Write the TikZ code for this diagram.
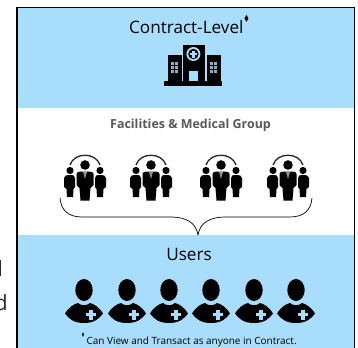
\documentclass[tikz,border=0pt]{standalone}
\usepackage{fontspec}
\setmainfont{Open Sans}
\newfontfamily\symfont{DejaVu Sans}
\usetikzlibrary{calc}
\definecolor{bandblue}{HTML}{A8DEFB}
\definecolor{titlegray}{HTML}{595959}
\tikzset{
	bandtitle/.style={inner sep=0pt, anchor=base, text=black, font=\fontsize{17.2}{20}\selectfont},
	cutword/.style={inner sep=0pt, anchor=base east, text=black!85, font=\fontsize{21}{24}\selectfont},
}
\def\marker#1#2{{\scalebox{#1}[#2]{\symfont\fontsize{8}{8}\selectfont ♦}}}
% three people under an arc
\def\peoplegroup(#1,#2){
	\begin{scope}[shift={(#1,#2)}]
		\draw[line width=1.3,black!85] (-15,0) .. controls (-11,-13) and (11,-13) .. (15,0);
		\fill (0,0) circle (4.8);
		\fill (-15,5.5) circle (3.6);
		\fill (15,5.5) circle (3.6);
		\fill (-21,22) -- (-21,13) .. controls (-21,10) and (-18,10) .. (-15,10) .. controls (-12,10) and (-10,10) .. (-10,13) -- (-10,22) -- (-11.5,24) -- (-12,32) -- (-18,32) -- (-18.5,24) -- cycle;
		\fill (21,22) -- (21,13) .. controls (21,10) and (18,10) .. (15,10) .. controls (12,10) and (10,10) .. (10,13) -- (10,22) -- (11.5,24) -- (12,32) -- (18,32) -- (18.5,24) -- cycle;
		\fill (-8.5,20) -- (-8.5,9) .. controls (-8.5,6.5) and (-5,6.5) .. (0,6.5) .. controls (5,6.5) and (8.5,6.5) .. (8.5,9) -- (8.5,20) -- (5.5,23) -- (4.5,35.5) -- (-4.5,35.5) -- (-5.5,23) -- cycle;
		\fill[black!45] (-2,7) -- (2,7) -- (0,14) -- cycle;
	\end{scope}
}
% one user with a plus badge
\def\userbadge(#1,#2){
	\begin{scope}[shift={(#1,#2)}]
		\fill (0,0) ellipse (8.7 and 11);
		\fill (-19,23.5) .. controls (-15,17) and (-10,14) .. (-6,13) .. controls (-3,16) and (3,16) .. (6,13) .. controls (10,14) and (15,17) .. (19,23.5) .. controls (15,29) and (10,33) .. (0,33) .. controls (-10,33) and (-15,29) .. (-19,23.5) -- cycle;
		\fill[bandblue] (5.3,19.7) rectangle (8.7,29.7);
		\fill[bandblue] (2,23) rectangle (12,26.4);
	\end{scope}
}
\begin{document}
\begin{tikzpicture}[x=1bp,y=-1bp]
	\useasboundingbox (0,0) rectangle (358,348);
	
	\fill[bandblue] (17,8) rectangle (354,108);
	\fill[white] (17,108) rectangle (354,235);
	\fill[bandblue] (17,235) rectangle (354,348);
	\draw[line width=1.3] (17,348) -- (17,7.5) -- (354.5,7.5) -- (354.5,348);
	
	\node[bandtitle] (contract) at (189.5,33) {Contract-Level\raisebox{0.62em}{\marker{0.9}{1.25}}};
	
	% hospital
	\fill (164,81) rectangle (222,85.5);
	\fill (167.5,55) rectangle (181.5,82);
	\fill (206.5,55) rectangle (221,82);
	\fill (182.8,45) rectangle (205.2,82);
	\fill[bandblue] (189,70.5) rectangle (198,81);
	\fill[bandblue] (193.4,54) circle (7);
	\fill (193.4,54) circle (5.2);
	\fill[bandblue] (192.2,50.5) rectangle (194.6,57.5);
	\fill[bandblue] (189.9,52.8) rectangle (196.9,55.2);
	\foreach \wx in {171,175,209.8,213.8} {
		\foreach \wy in {62,66,70} {
			\fill[bandblue!80!black] (\wx,\wy) rectangle ++(3.2,3.2);
		}
	}
	
	\node[inner sep=0pt, anchor=base, text=titlegray, font=\fontsize{12.5}{15}\selectfont\bfseries] (facilities) at (190.5,128) {Facilities \& Medical Group};
	
	\foreach \gx in {85,151,221,288} {
		\peoplegroup(\gx,165)
	}
	
	% brace
	\draw[line width=0.7] (60,198) .. controls (61,210) and (68,217) .. (82,217) -- (170,217) .. controls (187,217) and (196,223) .. (198,235);
	\draw[line width=0.7] (312,198) .. controls (311,210) and (304,217) .. (290,217) -- (226,217) .. controls (209,217) and (200,223) .. (198,235);
	
	\node[bandtitle] (users) at (189,260) {Users};
	
	\foreach \ux in {84,127,169,211,254,296} {
		\userbadge(\ux,290)
	}
	
	\node[inner sep=0pt, anchor=base, text=black, font=\fontsize{10}{12}\selectfont] (note) at (189,344) {\raisebox{0.62em}{\marker{0.5}{0.85}}\,Can View and Transact as anyone in Contract.};
	
	\node[cutword] (cutl) at (3,276) {l};
	\node[cutword] (cutd) at (8,310) {d};
\end{tikzpicture}
\end{document}
